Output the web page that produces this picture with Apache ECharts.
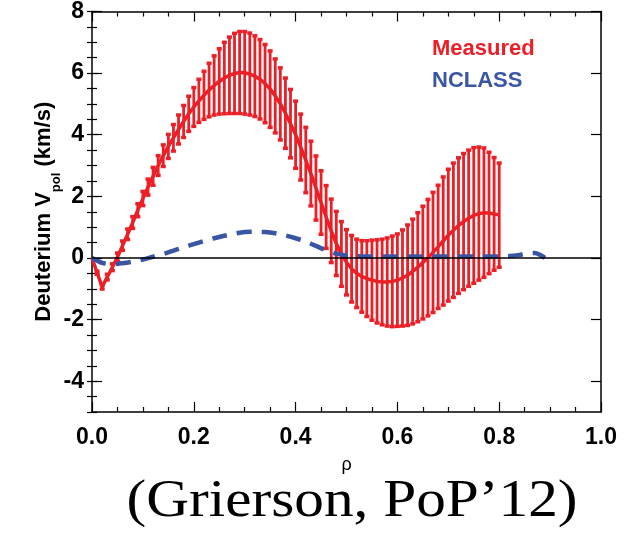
<!DOCTYPE html>
<html>
<head>
<meta charset="utf-8">
<script src="https://cdn.jsdelivr.net/npm/echarts@6/dist/echarts.min.js"></script>
<style>
html,body{margin:0;padding:0;background:#fff;}
#chart{width:633px;height:535px;}
</style>
</head>
<body>
<div id="chart"></div>
<script>
// ---- data ----
const rho = [0.00,0.01,0.02,0.03,0.04,0.05,0.06,0.07,0.08,0.09,
  0.10,0.11,0.12,0.13,0.14,0.15,0.16,0.17,0.18,0.19,
  0.20,0.21,0.22,0.23,0.24,0.25,0.26,0.27,0.28,0.29,
  0.30,0.31,0.32,0.33,0.34,0.35,0.36,0.37,0.38,0.39,
  0.40,0.41,0.42,0.43,0.44,0.45,0.46,0.47,0.48,0.49,
  0.50,0.51,0.52,0.53,0.54,0.55,0.56,0.57,0.58,0.59,
  0.60,0.61,0.62,0.63,0.64,0.65,0.66,0.67,0.68,0.69,
  0.70,0.71,0.72,0.73,0.74,0.75,0.76,0.77,0.78,0.79,0.80];
const measured = [0,-0.48,-0.94,-0.62,-0.3,0.03,0.4,0.77,1.15,1.55,
  1.93,2.3,2.65,3.0,3.32,3.62,3.9,4.17,4.43,4.68,
  4.9,5.1,5.28,5.45,5.6,5.73,5.84,5.93,5.99,6.02,
  6.01,5.97,5.9,5.8,5.66,5.48,5.26,5.0,4.7,4.36,
  4.0,3.6,3.18,2.74,2.27,1.8,1.33,0.88,0.47,0.13,
  -0.14,-0.35,-0.5,-0.6,-0.67,-0.72,-0.76,-0.78,-0.78,-0.76,
  -0.72,-0.65,-0.56,-0.44,-0.3,-0.15,0.01,0.18,0.36,0.55,
  0.74,0.9,1.05,1.18,1.29,1.38,1.44,1.47,1.46,1.43,1.39];
const measuredErr = [0,0.05,0.07,0.09,0.11,0.13,0.15,0.17,0.19,0.21,
  0.23,0.26,0.29,0.32,0.35,0.39,0.43,0.47,0.52,0.57,
  0.63,0.7,0.78,0.87,0.96,1.06,1.16,1.24,1.3,1.33,
  1.34,1.33,1.31,1.29,1.27,1.24,1.2,1.17,1.14,1.11,
  1.09,1.07,1.06,1.05,1.04,1.03,1.02,1.03,1.04,1.05,
  1.06,1.08,1.11,1.16,1.23,1.3,1.35,1.39,1.43,1.47,
  1.5,1.56,1.63,1.7,1.77,1.83,1.89,1.95,2.0,2.08,
  2.14,2.18,2.2,2.21,2.21,2.2,2.16,2.1,1.97,1.83,1.69];
const nclassRho = [0.00,0.02,0.04,0.06,0.08,0.10,0.12,0.14,0.16,0.18,
  0.20,0.22,0.24,0.26,0.28,0.30,0.32,0.34,0.36,0.38,
  0.40,0.42,0.44,0.46,0.48,0.50,0.52,0.55,0.60,0.65,
  0.70,0.75,0.80,0.82,0.84,0.86,0.87,0.88,0.89];
const nclass = [0,-0.16,-0.2,-0.17,-0.12,-0.05,0.04,0.13,0.24,0.35,
  0.45,0.55,0.64,0.72,0.79,0.84,0.85,0.84,0.8,0.73,
  0.64,0.53,0.39,0.25,0.14,0.08,0.06,0.05,0.05,0.05,
  0.05,0.05,0.05,0.06,0.1,0.16,0.16,0.1,0.0];
const xTicks = [0.0,0.2,0.4,0.6,0.8,1.0];
const yTicks = [-4,-2,0,2,4,6,8];
const seriesNames = ['Measured','NCLASS'];

const RED = '#ec1f27';
const BLUE = '#3b55a5';
const SANS = '"Liberation Sans", Arial, Helvetica, sans-serif';

const chart = echarts.init(document.getElementById('chart'), null, {renderer:'canvas'});

const errData = rho.map((r,i)=>[r, measured[i]-measuredErr[i], measured[i]+measuredErr[i]]);
const measData = rho.map((r,i)=>[r, measured[i]]);
const nclassData = nclassRho.map((r,i)=>[r, nclass[i]]);

function axisCommon(){
  return {
    axisLine:{show:true, onZero:false, lineStyle:{color:'#000', width:1.5}},
    splitLine:{show:false}
  };
}

const option = {
  animation:false,
  backgroundColor:'#fff',
  grid:{left:92, right:32, top:11, bottom:123, containLabel:false},
  legend:{
    orient:'vertical', left:422, top:33, itemWidth:0, itemHeight:0, itemGap:10,
    selectedMode:false,
    data:[
      {name:seriesNames[0], icon:'none', textStyle:{color:RED}},
      {name:seriesNames[1], icon:'none', textStyle:{color:BLUE}}
    ],
    textStyle:{fontFamily:SANS, fontWeight:'bold', fontSize:22}
  },
  xAxis:[
    Object.assign(axisCommon(),{
      type:'value', position:'bottom', min:0, max:1, interval:0.2,
      axisTick:{show:true, inside:true, length:10, lineStyle:{color:'#000', width:1.2}},
      minorTick:{show:true, splitNumber:4, length:5, lineStyle:{color:'#000', width:1.2}},
      axisLabel:{show:true, margin:14, color:'#000', fontFamily:SANS, fontWeight:'bold', fontSize:23,
        customValues:xTicks, formatter:v=>v.toFixed(1)},
      name:'ρ', nameLocation:'middle', nameGap:44, nameMoveOverlap:false,
      nameTextStyle:{color:'#000', fontFamily:SANS, fontSize:18}
    }),
    Object.assign(axisCommon(),{
      type:'value', position:'top', min:0, max:1, interval:0.2,
      axisTick:{show:true, inside:true, length:10, lineStyle:{color:'#000', width:1.2}},
      minorTick:{show:true, splitNumber:4, length:5, lineStyle:{color:'#000', width:1.2}},
      axisLabel:{show:false}
    })
  ],
  yAxis:[
    Object.assign(axisCommon(),{
      type:'value', position:'left', min:-5, max:8, interval:0.5,
      axisTick:{show:true, inside:true, length:10, customValues:yTicks, lineStyle:{color:'#000', width:1.2}},
      axisLabel:{show:true, margin:8, color:'#000', fontFamily:SANS, fontWeight:'bold', fontSize:23,
        customValues:yTicks, formatter:v=>String(v)},
      name:'{m|Deuterium V}{s|pol}{m| (km/s)}', nameLocation:'middle', nameGap:28, nameRotate:90,
      nameMoveOverlap:false,
      nameTextStyle:{
        rich:{
          m:{fontFamily:SANS, fontWeight:'bold', fontSize:22, color:'#000', lineHeight:40, verticalAlign:'middle'},
          s:{fontFamily:SANS, fontWeight:'bold', fontSize:13, color:'#000', lineHeight:13, verticalAlign:'bottom', padding:[0,0,1,0]}
        }
      }
    }),
    Object.assign(axisCommon(),{
      type:'value', position:'left', min:-5, max:8, interval:0.5,
      axisLine:{show:false},
      axisTick:{show:true, inside:true, length:5, lineStyle:{color:'#000', width:1.2}},
      axisLabel:{show:false}
    }),
    Object.assign(axisCommon(),{
      type:'value', position:'right', min:-5, max:8, interval:0.5,
      axisTick:{show:true, inside:true, length:10, customValues:yTicks, lineStyle:{color:'#000', width:1.2}},
      axisLabel:{show:false}
    }),
    Object.assign(axisCommon(),{
      type:'value', position:'right', min:-5, max:8, interval:0.5,
      axisLine:{show:false},
      axisTick:{show:true, inside:true, length:5, lineStyle:{color:'#000', width:1.2}},
      axisLabel:{show:false}
    })
  ],
  graphic:[
    {type:'text', x:352, y:502, z:10, scaleX:1.14, scaleY:1.0,
     style:{text:'(Grierson, PoP’12)', fill:'#000', font:'52px "Liberation Serif", "Times New Roman", serif',
       align:'center', verticalAlign:'middle'}}
  ],
  series:[
    {
      name:'zero', type:'line', data:[], silent:true, z:1,
      markLine:{silent:true, symbol:'none', label:{show:false},
        lineStyle:{color:'#000', width:1.5, type:'solid'},
        data:[{yAxis:0}]}
    },
    {
      name:'errorbars', type:'custom', z:2, silent:true,
      data:errData,
      renderItem:function(params, api){
        const x = api.value(0), lo = api.value(1), hi = api.value(2);
        if (hi - lo <= 0) return null;
        const p1 = api.coord([x, lo]);
        const p2 = api.coord([x, hi]);
        const cw = 2.5;
        const st = {stroke:RED, lineWidth:2.8};
        return {type:'group', children:[
          {type:'line', shape:{x1:p1[0], y1:p1[1], x2:p2[0], y2:p2[1]}, style:st},
          {type:'line', shape:{x1:p1[0]-cw, y1:p1[1], x2:p1[0]+cw, y2:p1[1]}, style:{stroke:RED, lineWidth:3.5}},
          {type:'line', shape:{x1:p2[0]-cw, y1:p2[1], x2:p2[0]+cw, y2:p2[1]}, style:{stroke:RED, lineWidth:3.5}}
        ]};
      }
    },
    {
      name:seriesNames[0], type:'line', z:3, data:measData, showSymbol:false, symbol:'none',
      lineStyle:{color:RED, width:3.5}, itemStyle:{color:RED}
    },
    {
      name:seriesNames[1], type:'line', z:4, data:nclassData, showSymbol:false, symbol:'none', smooth:0.3,
      lineStyle:{color:BLUE, width:4.5, type:[15,10]}, itemStyle:{color:BLUE}
    }
  ]
};
chart.setOption(option);
</script>
</body>
</html>
